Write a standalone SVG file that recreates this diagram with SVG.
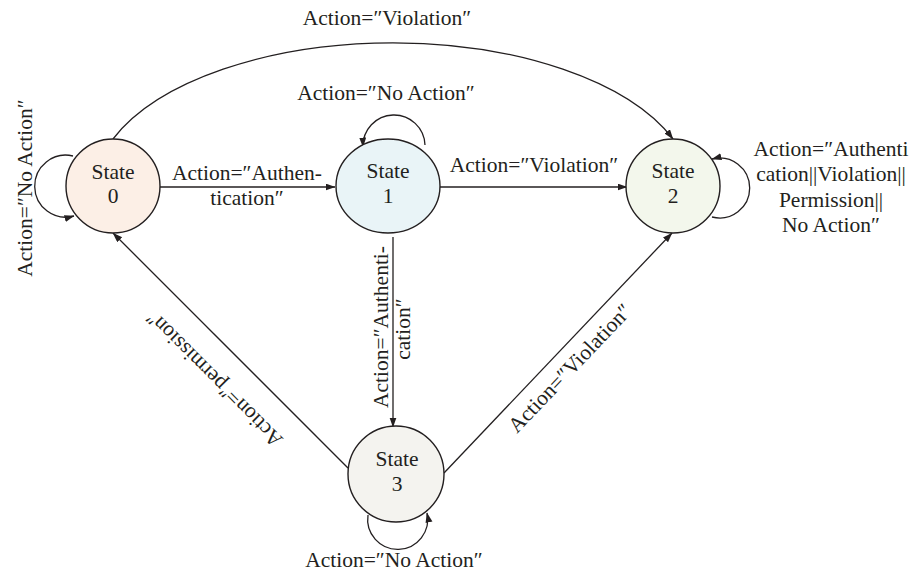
<svg xmlns="http://www.w3.org/2000/svg" width="913" height="575" viewBox="0 0 913 575">
<defs>
<marker id="arr" markerUnits="userSpaceOnUse" markerWidth="10" markerHeight="8" refX="9.5" refY="3.5" orient="auto">
<path d="M0,0 L10,3.5 L0,7 z" fill="#231f20"/>
</marker>
<style>
.st{stroke:#231f20;stroke-width:1.4}
.t{font-family:"Liberation Serif","Times New Roman",serif;font-size:21.5px;fill:#231f20}
.m{text-anchor:middle}
.e{fill:none;stroke:#231f20;stroke-width:1.3;marker-end:url(#arr)}
</style>
</defs>
<rect width="913" height="575" fill="#ffffff"/>
<g id="connectors">
<path class="e" d="M113,139 A300,150 0 0,1 673,139"/>
<path class="e" d="M160,187 L335,187"/>
<path class="e" d="M440,187 L627,187"/>
<path class="e" d="M393,237 L393,427"/>
<path class="e" d="M348,468 L113,233"/>
<path class="e" d="M444,473 L672,233"/>
<path class="e" d="M73,156 A31,31 0 1,0 74,216"/>
<path class="e" d="M425,145 A31,31 0 1,0 363,147"/>
<path class="e" d="M712,217 A30,30 0 1,0 712,159"/>
<path class="e" d="M368,515 A30,30 0 1,0 427,513"/>
<text class="t m" x="387" y="25">Action=″Violation″</text>
<text class="t m" x="386" y="100">Action=″No Action″</text>
<text class="t m" x="247" y="180">Action=″Authen-</text>
<text class="t m" x="247" y="205">tication″</text>
<text class="t m" x="534" y="172">Action=″Violation″</text>
<text class="t m" x="831" y="156">Action=″Authenti</text>
<text class="t m" x="831" y="181">cation||Violation||</text>
<text class="t m" x="831" y="207">Permission||</text>
<text class="t m" x="831" y="232">No Action″</text>
<text class="t m" transform="translate(32,188) rotate(-90)">Action=″No Action″</text>
<text class="t m" transform="translate(388,327) rotate(-90)">Action=″Authenti-</text>
<text class="t m" transform="translate(410,329) rotate(-90)">cation″</text>
<text class="t m" transform="translate(219,374) rotate(225)">Action=″permission″</text>
<text class="t m" transform="translate(575,373) rotate(-46.5)">Action=″Violation″</text>
<text class="t m" x="394" y="567">Action=″No Action″</text>
</g>
<g id="state0">
<circle class="st" cx="113" cy="186" r="47" fill="#fcefe6"/>
<text class="t m" x="113" y="179">State</text>
<text class="t m" x="113" y="203">0</text>
</g>
<g id="state1">
<ellipse class="st" cx="388" cy="186" rx="52" ry="47" fill="#e9f4f7"/>
<text class="t m" x="388" y="178">State</text>
<text class="t m" x="388" y="203">1</text>
</g>
<g id="state2">
<circle class="st" cx="673" cy="186" r="47" fill="#f3f7ec"/>
<text class="t m" x="673" y="178">State</text>
<text class="t m" x="673" y="203">2</text>
</g>
<g id="state3">
<circle class="st" cx="396" cy="474" r="48" fill="#f4f3ef"/>
<text class="t m" x="397" y="466">State</text>
<text class="t m" x="397" y="491">3</text>
</g>
</svg>
